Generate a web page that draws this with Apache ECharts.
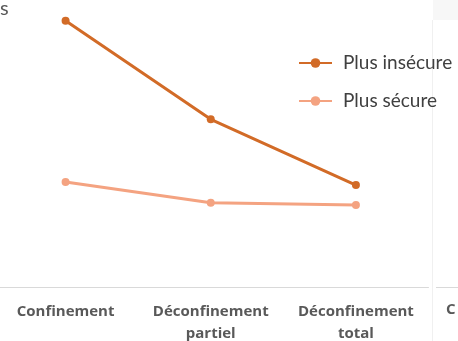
<!DOCTYPE html>
<html><head><meta charset="utf-8">
<script src="https://cdn.jsdelivr.net/npm/echarts@6/dist/echarts.min.js"></script>
<style>html,body{margin:0;padding:0;background:#fff}#c{width:458px;height:341px}</style>
</head><body><div id="c"></div>
<script>
const categories = ['Confinement', 'Déconfinement\npartiel', 'Déconfinement\ntotal'];
const seriesNames = ['Plus insécure', 'Plus sécure'];
const insecureValues = [95.1, 59.9, 36.4];
const secureValues = [37.5, 30.1, 29.3];
const colors = ['#D26B27', '#F4A381'];

const chart = echarts.init(document.getElementById('c'), null, {renderer: 'canvas'});
const font = '"Open Sans", "Liberation Sans", sans-serif';
const lfont = 'Lato, "Open Sans", sans-serif';
chart.setOption({
  animation: false,
  backgroundColor: '#ffffff',
  grid: {left: -7, right: 29.5, top: 7, bottom: 54, outerBoundsMode: 'none', containLabel: false},
  xAxis: {
    type: 'category', data: categories, boundaryGap: true,
    axisLine: {lineStyle: {color: '#d9d9d9', width: 1}},
    axisTick: {show: false},
    axisLabel: {interval: 0, hideOverlap: false, color: '#595959', fontWeight: 'bold', fontSize: 15, lineHeight: 22, margin: 14, fontFamily: font}
  },
  yAxis: {type: 'value', min: 0, max: 100, show: false, splitLine: {show: false}},
  legend: {
    orient: 'vertical', left: 298, top: 52, padding: 0, itemWidth: 33, itemHeight: 12, itemGap: 16,
    textStyle: {fontSize: 19, color: '#404040', fontFamily: lfont, lineHeight: 22, padding: [0, 0, 0, 6]},
    data: seriesNames
  },
  series: [
    {name: seriesNames[0], type: 'line', data: insecureValues, color: colors[0],
     lineStyle: {width: 3}, symbol: 'circle', symbolSize: 8, itemStyle: {color: colors[0]}},
    {name: seriesNames[1], type: 'line', data: secureValues, color: colors[1],
     lineStyle: {width: 3}, symbol: 'circle', symbolSize: 8, itemStyle: {color: colors[1]}}
  ],
  graphic: [
    {type: 'rect', shape: {x: 433, y: 0, width: 25, height: 20}, style: {fill: '#f7f7f7'}, silent: true},
    {type: 'line', shape: {x1: 432.5, y1: 20, x2: 432.5, y2: 341}, style: {stroke: '#f0f0f0', lineWidth: 1}, silent: true},
    {type: 'line', shape: {x1: 436, y1: 287.5, x2: 458, y2: 287.5}, style: {stroke: '#d9d9d9', lineWidth: 1}, silent: true},
    {type: 'text', left: 0, top: -1, style: {text: 's', fontSize: 20, fill: '#595959', fontFamily: lfont}, silent: true},
    {type: 'text', left: 446, top: 302, style: {text: 'C', fontSize: 15, fontWeight: 'bold', fill: '#595959', fontFamily: font}, silent: true}
  ]
});
</script></body></html>
